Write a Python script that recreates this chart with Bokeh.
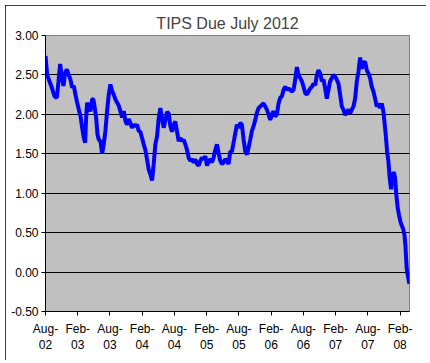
from bokeh.plotting import figure
from bokeh.models import Range1d, FixedTicker, PrintfTickFormatter
from bokeh.embed import file_html
from bokeh.resources import INLINE

# months since Aug-2002
months = [
    0.00, 0.31, 0.74, 1.18, 1.67, 2.11, 2.42, 2.73, 3.04, 3.35, 3.66, 3.97, 4.28, 4.65, 4.96,
    5.27, 5.58, 5.89, 6.20, 6.51, 6.82, 7.13, 7.38, 7.56, 7.75, 8.06, 8.37, 8.68, 8.92, 9.17,
    9.42, 9.67, 9.91, 10.23, 10.54, 10.84, 11.15, 11.46, 11.77, 12.08, 12.39, 12.70, 13.01,
    13.32, 13.63, 13.94, 14.25, 14.56, 14.87, 15.18, 15.49, 15.80, 16.11, 16.42, 16.73, 17.04,
    17.35, 17.66, 17.97, 18.28, 18.59, 18.90, 19.21, 19.52, 19.83, 20.14, 20.45, 20.76, 21.07,
    21.38, 21.69, 22.00, 22.31, 22.62, 22.93, 23.24, 23.55, 23.86, 24.17, 24.48, 24.79, 25.10,
    25.41, 25.72, 26.03, 26.34, 26.65, 26.96, 27.27, 27.58, 27.89, 28.20, 28.51, 28.82, 29.13,
    29.44, 29.75, 30.06, 30.37, 30.67, 30.98, 31.29, 31.60, 31.91, 32.22, 32.53, 32.84, 33.15,
    33.46, 33.77, 34.08, 34.39, 34.70, 35.01, 35.32, 35.63, 35.94, 36.25, 36.56, 36.87, 37.18,
    37.49, 37.80, 38.11, 38.42, 38.73, 39.04, 39.35, 39.66, 39.97, 40.28, 40.59, 40.90, 41.21,
    41.52, 41.83, 42.14, 42.45, 42.76, 43.07, 43.38, 43.69, 44.00, 44.31, 44.62, 44.93, 45.24,
    45.55, 45.86, 46.17, 46.48, 46.79, 47.10, 47.41, 47.72, 48.03, 48.34, 48.65, 48.96, 49.27,
    49.58, 49.89, 50.20, 50.51, 50.82, 51.13, 51.44, 51.74, 52.05, 52.36, 52.67, 52.98, 53.29,
    53.60, 53.91, 54.22, 54.53, 54.84, 55.15, 55.46, 55.77, 56.08, 56.39, 56.70, 57.01, 57.32,
    57.63, 57.94, 58.25, 58.56, 58.87, 59.18, 59.49, 59.80, 60.11, 60.42, 60.73, 61.04, 61.35,
    61.66, 61.97, 62.28, 62.59, 62.90, 63.08, 63.33, 63.58, 63.83, 64.07, 64.32, 64.57, 64.82,
    65.07, 65.31, 65.56, 65.81, 66.06, 66.31, 66.56, 66.81, 66.99, 67.12, 67.24, 67.43, 67.67,
    67.74,
]

yields = [
    2.74, 2.50, 2.42, 2.34, 2.23, 2.21, 2.42, 2.64, 2.47, 2.36, 2.53, 2.57, 2.51, 2.44, 2.34,
    2.36, 2.25, 2.15, 2.06, 1.98, 1.83, 1.70, 1.64, 1.96, 2.15, 2.08, 2.04, 2.19, 2.19, 2.08,
    1.96, 1.75, 1.68, 1.66, 1.50, 1.62, 1.79, 2.04, 2.25, 2.38, 2.30, 2.25, 2.19,
    2.15, 2.11, 2.04, 1.96, 2.04, 1.92, 1.87, 1.94, 1.89, 1.83, 1.87, 1.85, 1.87,
    1.79, 1.78, 1.70, 1.62, 1.55, 1.43, 1.30, 1.24, 1.16, 1.37, 1.62, 1.72, 1.95,
    2.08, 1.95, 1.83, 1.93, 2.03, 2.01, 1.85, 1.78, 1.87, 1.91, 1.78, 1.66, 1.70,
    1.66, 1.68, 1.62, 1.55, 1.45, 1.41, 1.43, 1.39, 1.43, 1.37, 1.35, 1.41, 1.45,
    1.43, 1.47, 1.35, 1.41, 1.43, 1.39, 1.45, 1.55, 1.62, 1.51, 1.41, 1.37, 1.39,
    1.43, 1.41, 1.37, 1.53, 1.53, 1.64, 1.76, 1.87, 1.83, 1.89, 1.87, 1.68, 1.53,
    1.49, 1.58, 1.68, 1.79, 1.85, 1.93, 2.02, 2.08, 2.10, 2.12, 2.14, 2.10, 2.06,
    2.00, 1.93, 2.00, 2.04, 1.97, 2.00, 2.14, 2.21, 2.23, 2.31, 2.35, 2.31, 2.33,
    2.31, 2.29, 2.31, 2.44, 2.60, 2.50, 2.46, 2.42, 2.35, 2.27, 2.25, 2.29, 2.33,
    2.35, 2.39, 2.37, 2.50, 2.56, 2.52, 2.42, 2.44, 2.33, 2.20, 2.31, 2.42, 2.46,
    2.50, 2.48, 2.44, 2.39, 2.25, 2.10, 2.06, 1.99, 2.03, 2.06, 2.01, 2.06, 2.10,
    2.20, 2.42, 2.54, 2.72, 2.58, 2.65, 2.67, 2.56, 2.52, 2.46, 2.35, 2.29, 2.20,
    2.10, 2.14, 2.08, 2.14, 2.03, 1.91, 1.74, 1.53, 1.40, 1.19, 1.05, 1.21, 1.27,
    1.19, 0.97, 0.81, 0.72, 0.64, 0.59, 0.55, 0.47, 0.34, 0.17, 0.04, -0.04, -0.13,
    -0.15,
]

tick_months = [0, 6, 12, 18, 24, 30, 36, 42, 48, 54, 60, 66]
tick_labels = ["Aug-\n02", "Feb-\n03", "Aug-\n03", "Feb-\n04", "Aug-\n04", "Feb-\n05",
               "Aug-\n05", "Feb-\n06", "Aug-\n06", "Feb-\n07", "Aug-\n07", "Feb-\n08"]
y_ticks = [-0.5, 0.0, 0.5, 1.0, 1.5, 2.0, 2.5, 3.0]

FONT = "Liberation Sans"

p = figure(width=421, height=355, output_backend="svg", toolbar_location=None,
           x_range=Range1d(0, 67.75), y_range=Range1d(-0.5, 3.0),
           title="TIPS Due July 2012",
           min_border_left=40, min_border_right=17, min_border_top=30, min_border_bottom=49)

p.styles = {"margin-left": "5px", "margin-top": "5px",
            "outline": "1px solid black", "outline-offset": "-1px"}

p.title.text_font = FONT
p.title.text_font_size = "16px"
p.title.text_font_style = "normal"
p.title.align = "center"
p.title.standoff = 8
p.title.offset = -11

p.background_fill_color = "#C0C0C0"
p.border_fill_color = "white"
p.outline_line_color = "#808080"
p.outline_line_width = 1

p.xgrid.grid_line_color = None
p.ygrid.grid_line_color = "black"
p.ygrid.grid_line_width = 1

p.xaxis.ticker = FixedTicker(ticks=tick_months)
p.xaxis.major_label_overrides = {m: lab for m, lab in zip(tick_months, tick_labels)}
p.yaxis.ticker = FixedTicker(ticks=y_ticks)
p.yaxis.formatter = PrintfTickFormatter(format="%.2f")

for ax in (p.xaxis, p.yaxis):
    ax.axis_line_color = "black"
    ax.major_tick_line_color = "black"
    ax.major_tick_out = 4
    ax.major_tick_in = 0
    ax.minor_tick_line_color = None
    ax.major_label_text_font = FONT
    ax.major_label_text_font_size = "12px"
    ax.major_label_text_color = "black"

p.xaxis.major_label_standoff = 6
p.yaxis.major_label_standoff = 3

p.line(months, yields, line_color="#0000FF", line_width=4)

open("out.html", "w").write(file_html(p, INLINE))
